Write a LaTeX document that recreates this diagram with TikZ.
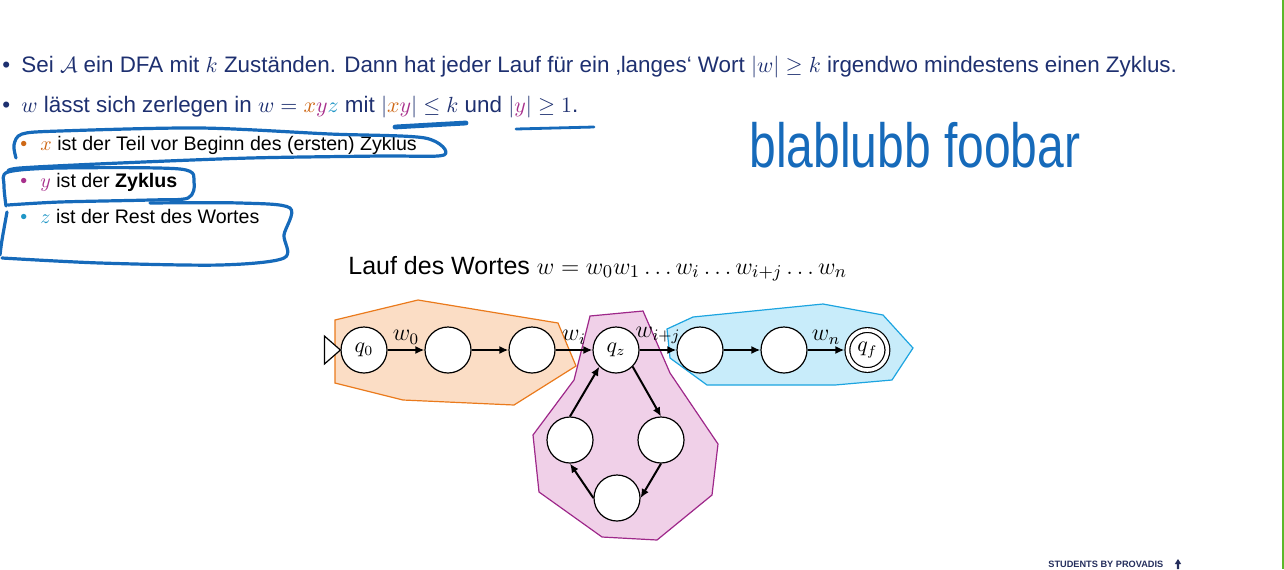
\documentclass[tikz,border=0pt]{standalone}
\usepackage{amsmath}
\usepackage{fontspec}
\setmainfont{Liberation Sans}
\usepackage{xcolor}
\usetikzlibrary{positioning, arrows.meta, backgrounds}

\definecolor{navy}{RGB}{30,48,112}
\definecolor{xorange}{RGB}{206,104,22}
\definecolor{ymag}{RGB}{168,48,140}
\definecolor{zteal}{RGB}{32,150,198}
\definecolor{xfill}{RGB}{251,221,197}
\definecolor{xline}{RGB}{234,122,28}
\definecolor{yfill}{RGB}{240,208,232}
\definecolor{yline}{RGB}{158,40,138}
\definecolor{zfill}{RGB}{200,236,250}
\definecolor{zline}{RGB}{28,164,224}
\definecolor{ink}{RGB}{22,106,186}
\definecolor{footer}{RGB}{36,46,92}
\definecolor{edge}{RGB}{92,184,42}

\begin{document}
\begin{tikzpicture}[
  x=0.5pt, y=-0.5pt,
  node distance=18.4pt,
  state/.style={circle, draw, fill=white, line width=0.6pt, minimum size=23pt,
                inner sep=0pt, font=\fontsize{10.5}{11}\selectfont},
  accept/.style={state, double, double distance=1.8pt, minimum size=20pt,
                 outer sep=1.5pt},
  arr/.style={-{Latex[length=4.5pt, width=4pt]}, line width=1pt},
  lbl/.style={font=\fontsize{11.5}{13}\selectfont, inner sep=1pt},
  bullet/.style={anchor=base west, inner sep=0pt, text=navy,
                 font=\fontsize{11.2}{13}\selectfont},
  subbullet/.style={anchor=base west, inner sep=0pt,
                    font=\fontsize{9.8}{11}\selectfont},
  zone/.style={line width=0.6pt},
  ink/.style={draw=ink, line width=1.6pt, line cap=round, line join=round}
]
\useasboundingbox (0,0) rectangle (1284,569);

% Bullets
\node[bullet] (sei) at (2,72.5) {\makebox[9.5pt][l]{\textbullet}Sei $\mathcal{A}$ ein DFA mit $k$ Zuständen. Dann hat jeder Lauf für ein ‚langes‘ Wort $|w| \geq k$ irgendwo mindestens einen Zyklus.};
\node[bullet] (split) at (2,112.5) {\makebox[9.5pt][l]{\textbullet}$w$ lässt sich zerlegen in $w = {\color{xorange}x}{\color{ymag}y}{\color{zteal}z}$ mit $|{\color{xorange}x}{\color{ymag}y}| \leq k$ und $|{\color{ymag}y}| \geq 1$.};
\node[subbullet] (xpart) at (20,150.5) {\makebox[10pt][l]{\color{xorange}\textbullet}$\color{xorange}x$ ist der Teil vor Beginn des (ersten) Zyklus};
\node[subbullet] (ypart) at (20,187) {\makebox[10pt][l]{\color{ymag}\textbullet}$\color{ymag}y$ ist der \textbf{Zyklus}};
\node[subbullet] (zpart) at (20,223.5) {\makebox[10pt][l]{\color{zteal}\textbullet}$\color{zteal}z$ ist der Rest des Wortes};

% Title of the run
\node[anchor=base west, inner sep=0pt, font=\fontsize{12.5}{14}\selectfont] (lauf) at (348,274)
  {Lauf des Wortes $w = w_0w_1\ldots w_i\ldots w_{i+j}\ldots w_n$};

% States of the run
\node[state] (q0) at (364,350) {$q_0$};
\node[state, right=of q0] (a1) {};
\node[state, right=of a1] (a2) {};
\node[state, right=of a2] (qz) {$q_z$};
\node[state, right=of qz] (b1) {};
\node[state, right=of b1] (b2) {};
\node[accept, right=of b2] (qf) {$q_f$};

% Cycle
\node[state] (cl) at (570,440) {};
\node[state] (cr) at (661,440) {};
\node[state] (cb) at (617,498) {};

% Arrows
\draw[line width=0.6pt, fill=white] (q0.west) -- ++(-16,-14) -- ++(0,28) -- cycle;
\draw[arr] (q0) -- node[lbl, above=1.5pt] {$w_0$} (a1);
\draw[arr] (a1) -- (a2);
\draw[arr] (a2) -- node[lbl, above=1.5pt] {$w_i$} (qz);
\draw[arr] (qz) -- node[lbl, above=1.5pt] {$w_{i+j}$} (b1);
\draw[arr] (b1) -- (b2);
\draw[arr] (b2) -- node[lbl, above=1.5pt] {$w_n$} (qf);
\draw[arr] (qz.south east) -- (cr.north);
\draw[arr] (cr.south) -- (cb.east);
\draw[arr] (cb.west) -- (cl.south);
\draw[arr] (cl.north) -- (qz.south west);

% Parts x, y, z
\begin{scope}[on background layer]
  \draw[zone, draw=yline, fill=yfill] (590,316) -- (643,311) -- (670,373) -- (718,444)
    -- (712,495) -- (657,540) -- (602,537) -- (539,492) -- (533,435) -- (574,380) -- cycle;
  \draw[zone, draw=xline, fill=xfill] (335,320) -- (418,300) -- (558,323) -- (576,366)
    -- (514,405) -- (403,400) -- (335,383) -- cycle;
  \draw[zone, draw=zline, fill=zfill] (667,329) -- (693,317) -- (823,304) -- (883,315)
    -- (913,348) -- (892,380) -- (835,385) -- (707,385) -- (670,358) -- cycle;
\end{scope}

% Ink
\draw[ink, line width=2.4pt] plot[smooth] coordinates {(395,127) (430,125) (466,123)};
\draw[ink, line width=1.4pt] plot[smooth] coordinates {(516,129) (555,128) (594,127)};
\draw[ink] plot[smooth] coordinates {(16,158) (14,145) (22,134) (60,131) (200,128) (330,134)
  (425,138) (444,155) (380,156) (250,158) (120,163) (20,168) (8,172)};
\draw[ink] plot[smooth] coordinates {(6,206) (4,185) (8,172) (60,168) (180,169) (194,182)
  (188,198) (150,200) (60,202) (8,205)};
\draw[ink] plot[smooth] coordinates {(150,203) (240,203) (290,208) (284,235) (284,258)
  (220,265) (100,263) (2,258)};
\draw[ink] plot[smooth] coordinates {(7,212) (2,240) (0,255)};
\node[anchor=base west, inner sep=0pt, text=ink, font=\fontsize{24}{28}\selectfont] (note)
  at (749,167) {\scalebox{1}[1.3]{blablubb foobar}};

% Footer
\node[anchor=base west, inner sep=0pt, text=footer, font=\fontsize{4.6}{5}\selectfont\bfseries]
  (brand) at (1048,567) {STUDENTS BY PROVADIS};
\fill[footer] (1176.8,569) -- (1176.8,564) -- (1174.8,564) -- (1178,559) -- (1181.2,564)
  -- (1179.2,564) -- (1179.2,569) -- cycle;
\draw[edge, line width=0.7pt] (1283,0) -- (1283,569);
\end{tikzpicture}
\end{document}
